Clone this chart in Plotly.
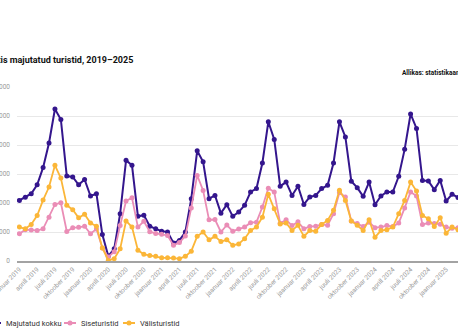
import plotly.graph_objects as go

# Monthly periods, January 2019 - March 2025 (Estonian month names)
month_names = ["jaanuar", "veebruar", "märts", "aprill", "mai", "juuni",
               "juuli", "august", "september", "oktoober", "november", "detsember"]
periods = [f"{m} {y}" for y in range(2019, 2026) for m in month_names][:75]
tick_periods = periods[::3]

# Accommodated tourists, thousands
total_k = [
    209, 220, 232, 263, 322, 407, 524, 488, 293, 290, 263, 281,   # 2019
    224, 232, 91, 17, 42, 163, 347, 330, 154, 158, 120, 111,      # 2020
    103, 100, 62, 71, 100, 215, 380, 342, 215, 226, 165, 194,     # 2021
    154, 169, 192, 238, 250, 338, 480, 419, 258, 272, 226, 258,   # 2022
    195, 221, 226, 250, 261, 338, 480, 428, 275, 253, 223, 272,   # 2023
    194, 224, 238, 238, 292, 385, 507, 457, 278, 276, 246, 278,   # 2024
    207, 230, 219,                                                # 2025
]
domestic_k = [
    94, 108, 107, 105, 111, 151, 195, 201, 102, 115, 116, 120,
    94, 110, 45, 14, 32, 122, 207, 218, 117, 137, 101, 95,
    92, 88, 54, 64, 86, 183, 295, 243, 142, 143, 100, 124,
    103, 110, 117, 132, 134, 186, 251, 238, 130, 142, 122, 135,
    111, 119, 120, 126, 123, 163, 236, 221, 138, 129, 119, 134,
    115, 117, 122, 119, 131, 183, 238, 224, 126, 131, 129, 127,
    117, 113, 115,
]
foreign_k = [
    117, 111, 126, 157, 210, 255, 330, 286, 192, 177, 149, 161,
    131, 120, 45, 2, 8, 42, 138, 117, 37, 23, 19, 16,
    11, 11, 10, 8, 16, 34, 85, 100, 73, 85, 67, 73,
    54, 59, 77, 105, 117, 151, 230, 180, 128, 131, 105, 123,
    85, 105, 103, 126, 140, 175, 244, 209, 138, 123, 105, 142,
    82, 105, 108, 117, 163, 209, 272, 241, 157, 146, 119, 149,
    96, 117, 108,
]

series = [
    ("Majutatud kokku", total_k, "#34168d", 2.0),
    ("Siseturistid", domestic_k, "#ea8db6", 1.8),
    ("Välisturistid", foreign_k, "#fbb638", 1.8),
]

FONT = "Roboto, Arial, sans-serif"
W, H = 458, 336
M_L, M_R, M_T, M_B = 17, 0, 87, 75
plot_w = W - M_L - M_R
plot_h = H - M_T - M_B

fig = go.Figure()
for name, vals, color, lw in series:
    fig.add_trace(go.Scatter(
        x=periods,
        y=[v * 1000 for v in vals],
        name=name,
        mode="lines+markers",
        line=dict(color=color, width=lw),
        marker=dict(color=color, size=5, symbol="circle"),
    ))

# Compact horizontal legend below the axis: short line + dot, then the label
legend_text_px = [4, 79, 138]
legend_y = -62 / plot_h
shapes, annotations = [], []
for (name, _, color, lw), tx in zip(series, legend_text_px):
    ax = (tx - M_L) / plot_w
    shapes.append(dict(type="line", xref="paper", yref="paper",
                       xsizemode="pixel", ysizemode="pixel",
                       xanchor=ax, yanchor=legend_y,
                       x0=-15, x1=-3, y0=0, y1=0,
                       line=dict(color=color, width=2)))
    shapes.append(dict(type="circle", xref="paper", yref="paper",
                       xsizemode="pixel", ysizemode="pixel",
                       xanchor=ax, yanchor=legend_y,
                       x0=-11.5, x1=-6.5, y0=-2.5, y1=2.5,
                       fillcolor=color, line=dict(color=color, width=0)))
    annotations.append(dict(text=name, xref="paper", yref="paper",
                            x=ax, y=legend_y, xanchor="left", yanchor="middle",
                            showarrow=False,
                            font=dict(size=7.5, color="#333333", family=FONT)))

annotations += [
    dict(text="<b>Eestis majutatud turistid, 2019–2025</b>",
         xref="paper", yref="paper", x=0.2676, y=1.155,
         xanchor="right", yanchor="middle", showarrow=False,
         font=dict(size=9, color="#111111", family=FONT)),
    dict(text="<b>Allikas: statistikaamet</b>",
         xref="paper", yref="paper", x=0.8685, y=1.08,
         xanchor="left", yanchor="middle", showarrow=False,
         font=dict(size=6.5, color="#111111", family=FONT)),
]

fig.update_layout(
    width=W,
    height=H,
    margin=dict(l=M_L, r=M_R, t=M_T, b=M_B, autoexpand=False),
    paper_bgcolor="white",
    plot_bgcolor="white",
    separators=", ",
    font=dict(family=FONT, size=7, color="#333333"),
    showlegend=False,
    shapes=shapes,
    annotations=annotations,
)

fig.update_xaxes(
    type="category",
    categoryorder="array",
    categoryarray=periods,
    range=[-0.4, 74.0],
    tickmode="array",
    tickvals=tick_periods,
    ticktext=tick_periods,
    tickangle=-45,
    tickfont=dict(size=6.5, color="#9a9a9a"),
    showgrid=False,
    showline=True,
    linecolor="#a3a3a3",
    linewidth=2,
    ticks="",
    zeroline=False,
)

fig.update_yaxes(
    range=[0, 600000],
    tickmode="linear",
    tick0=0,
    dtick=100000,
    tickformat=",d",
    tickfont=dict(size=6.5, color="#9a9a9a"),
    showgrid=True,
    gridcolor="#e8e8e8",
    gridwidth=1,
    zeroline=False,
    showline=False,
    ticks="",
    ticklabelstandoff=6,
)

fig.write_html("out.html")
